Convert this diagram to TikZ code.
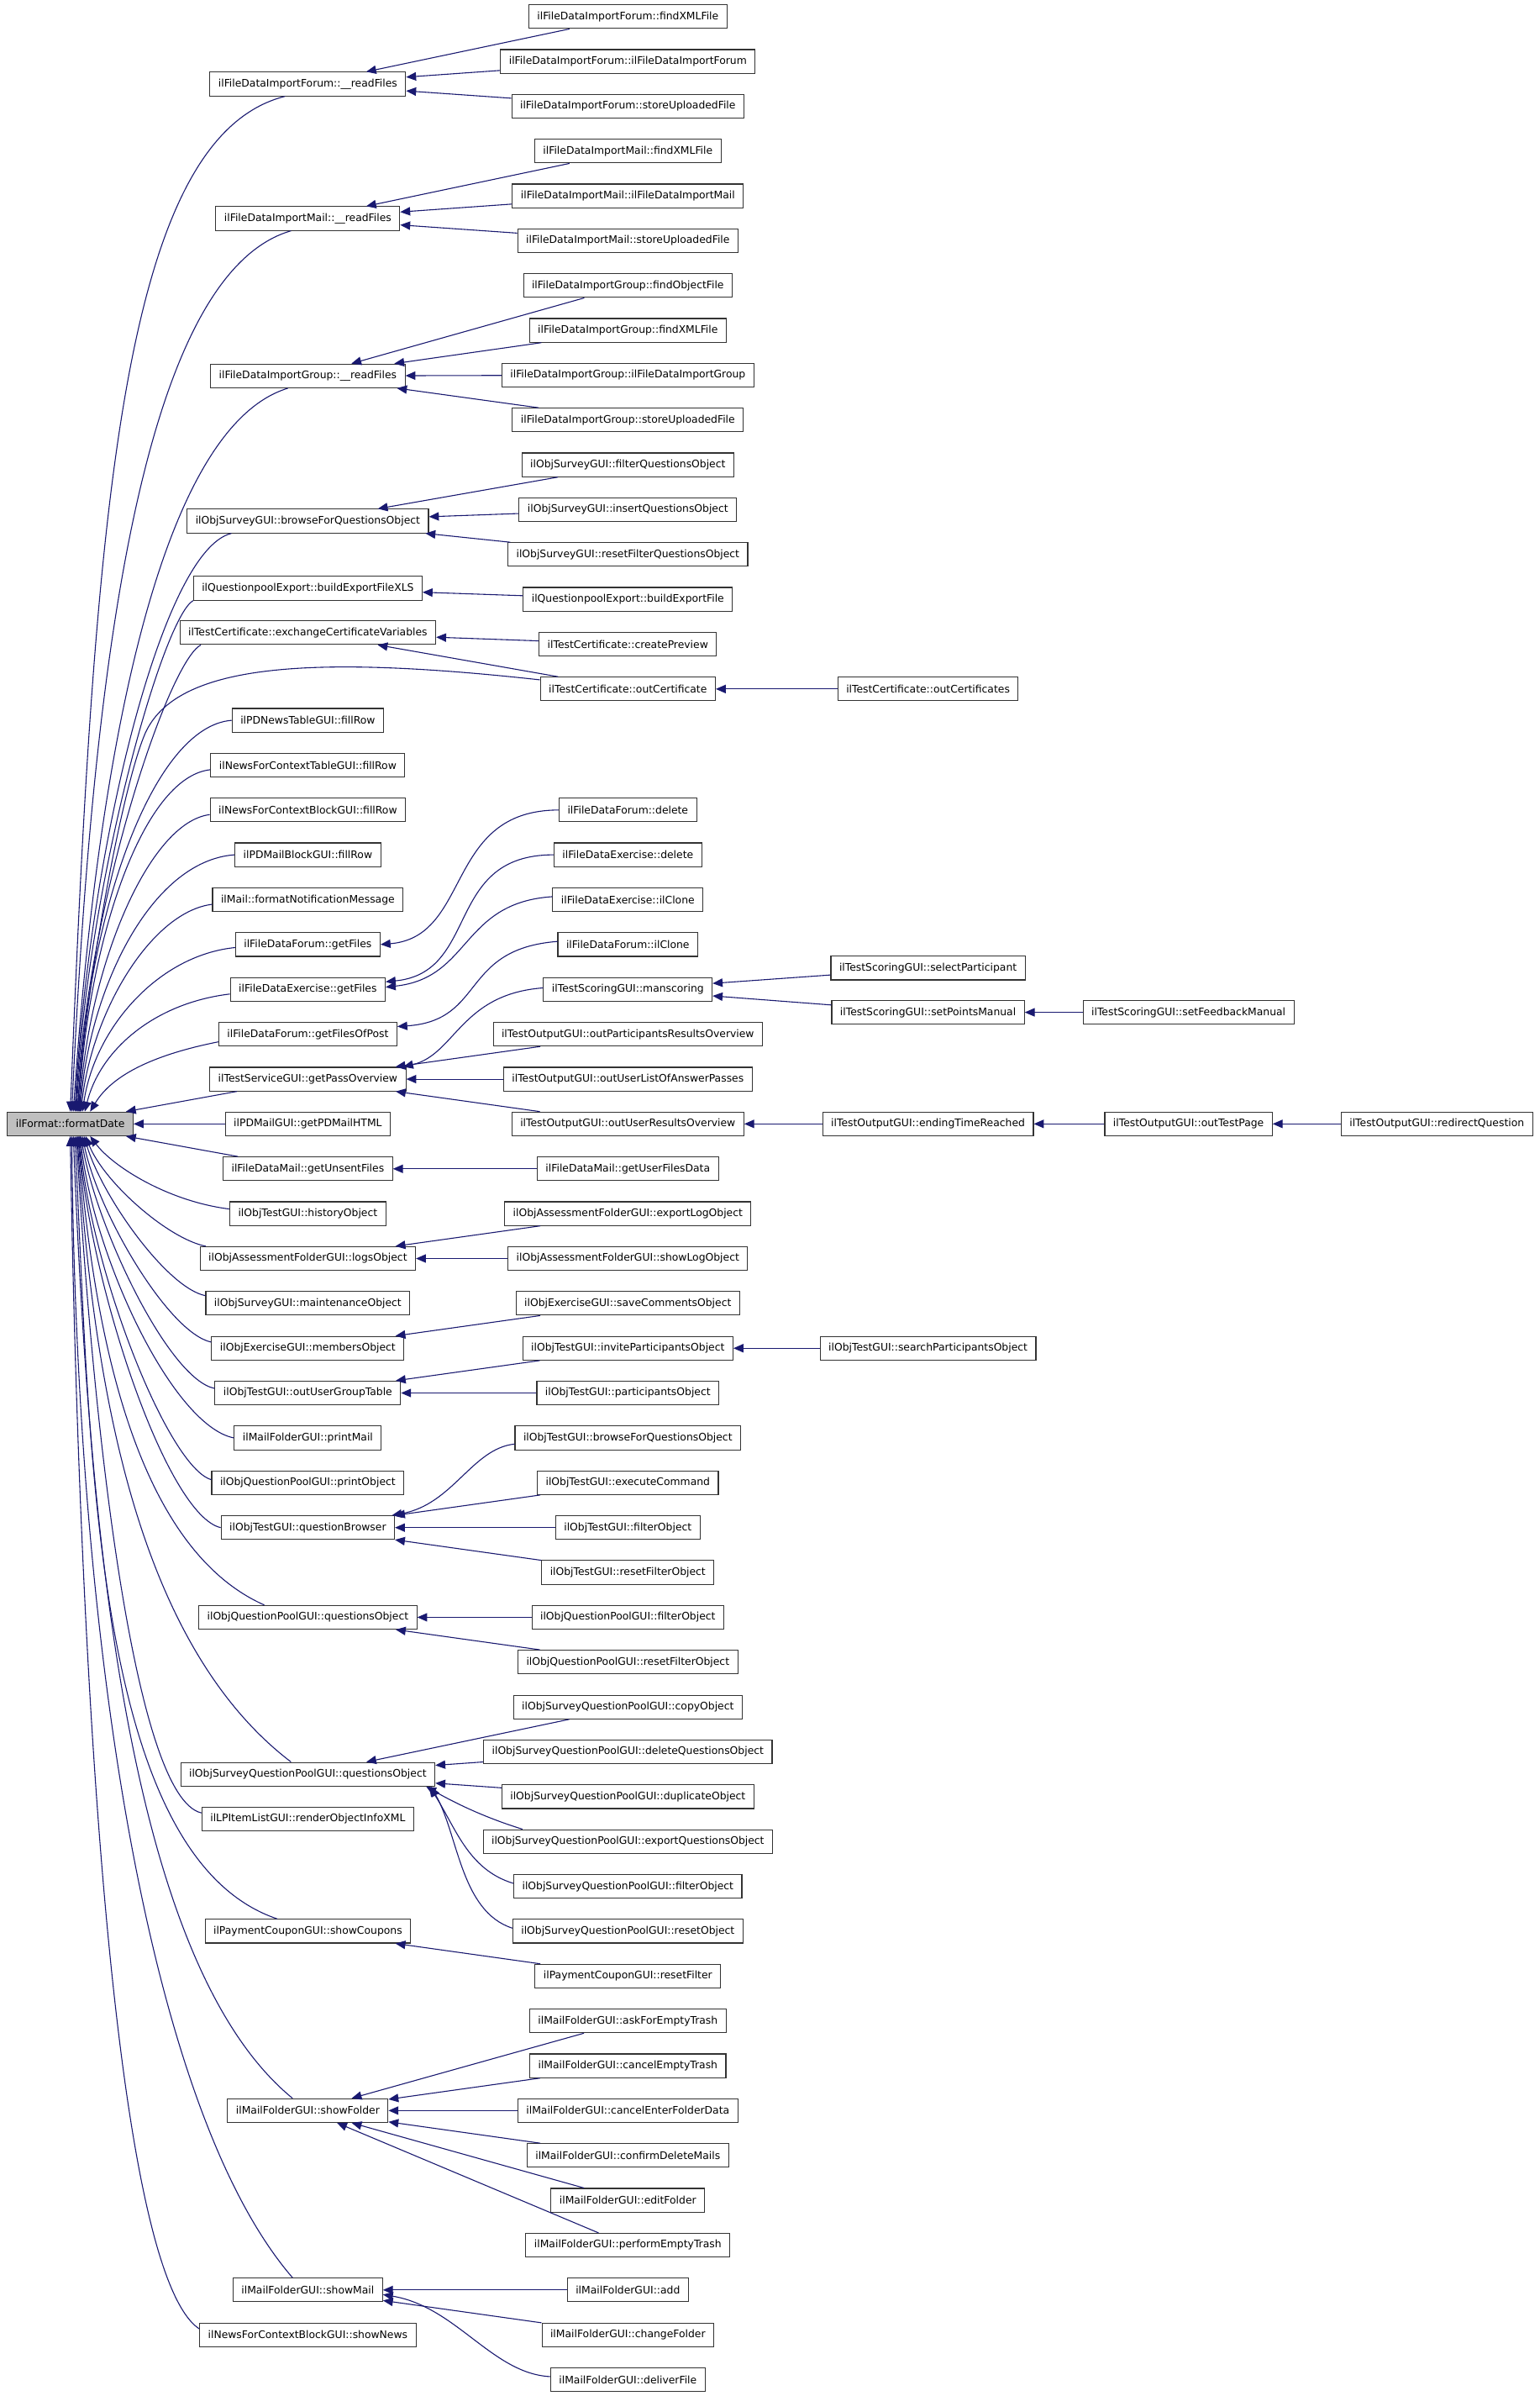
\documentclass[tikz,border=0pt]{standalone}
\usepackage{fontspec}
\setmainfont{DejaVu Sans}
\usetikzlibrary{arrows.meta}
\definecolor{edgeblue}{HTML}{191970}
\definecolor{rootgray}{HTML}{BFBFBF}

\begin{document}
\begin{tikzpicture}[x=1pt,y=-1pt,
  fn/.style={draw=black!80,line width=0.6pt,fill=white,minimum height=15.5pt,
    inner xsep=5.5pt,inner ysep=0pt,font=\fontsize{6.8}{8}\selectfont},
  root/.style={fn,fill=rootgray},
  call/.style={draw=edgeblue,line width=0.6pt,-{Triangle[length=6.5pt,width=5.5pt]}}]
  \useasboundingbox[fill=white] (0,0) rectangle (1007.6,1568);

  % called function
  \node[root] (fd) at (46,735.5) {ilFormat::formatDate};

  % direct callers
  \node[fn] (rfForum) at (201.5,55) {ilFileDataImportForum::\_\_readFiles};
  \node[fn] (rfMail) at (201.5,143) {ilFileDataImportMail::\_\_readFiles};
  \node[fn] (rfGroup) at (201.5,246) {ilFileDataImportGroup::\_\_readFiles};
  \node[fn] (svBrowse) at (201.5,341) {ilObjSurveyGUI::browseForQuestionsObject};
  \node[fn] (qpXLS) at (201.5,385) {ilQuestionpoolExport::buildExportFileXLS};
  \node[fn] (tcExchange) at (201.5,414) {ilTestCertificate::exchangeCertificateVariables};
  \node[fn] (pdNews) at (201.5,471.4) {ilPDNewsTableGUI::fillRow};
  \node[fn] (ncTable) at (201.5,500.7) {ilNewsForContextTableGUI::fillRow};
  \node[fn] (ncBlock) at (201.5,530.1) {ilNewsForContextBlockGUI::fillRow};
  \node[fn] (pdMailBlock) at (201.5,559.4) {ilPDMailBlockGUI::fillRow};
  \node[fn] (mailNotify) at (201.5,588.8) {ilMail::formatNotificationMessage};
  \node[fn] (dfGetFiles) at (201.5,618.1) {ilFileDataForum::getFiles};
  \node[fn] (deGetFiles) at (201.5,647.5) {ilFileDataExercise::getFiles};
  \node[fn] (dfOfPost) at (201.5,676.8) {ilFileDataForum::getFilesOfPost};
  \node[fn] (tsPass) at (201.5,706.2) {ilTestServiceGUI::getPassOverview};
  \node[fn] (pdMailHtml) at (201.5,735.5) {ilPDMailGUI::getPDMailHTML};
  \node[fn] (dmUnsent) at (201.5,764.9) {ilFileDataMail::getUnsentFiles};
  \node[fn] (otHistory) at (201.5,794.2) {ilObjTestGUI::historyObject};
  \node[fn] (afLogs) at (201.5,823.6) {ilObjAssessmentFolderGUI::logsObject};
  \node[fn] (svMaint) at (201.5,852.9) {ilObjSurveyGUI::maintenanceObject};
  \node[fn] (exMembers) at (201.5,882.3) {ilObjExerciseGUI::membersObject};
  \node[fn] (otGroup) at (201.5,911.6) {ilObjTestGUI::outUserGroupTable};
  \node[fn] (mfPrint) at (201.5,941) {ilMailFolderGUI::printMail};
  \node[fn] (qpPrint) at (201.5,970.3) {ilObjQuestionPoolGUI::printObject};
  \node[fn] (otBrowser) at (201.5,999.7) {ilObjTestGUI::questionBrowser};
  \node[fn] (qpQuestions) at (201.5,1058.4) {ilObjQuestionPoolGUI::questionsObject};
  \node[fn] (sqQuestions) at (201.5,1161.1) {ilObjSurveyQuestionPoolGUI::questionsObject};
  \node[fn] (lpRender) at (201.5,1190.4) {ilLPItemListGUI::renderObjectInfoXML};
  \node[fn] (pcShow) at (201.5,1263.8) {ilPaymentCouponGUI::showCoupons};
  \node[fn] (mfShowFolder) at (201.5,1381.2) {ilMailFolderGUI::showFolder};
  \node[fn] (mfShowMail) at (201.5,1498.6) {ilMailFolderGUI::showMail};
  \node[fn] (ncShowNews) at (201.5,1528) {ilNewsForContextBlockGUI::showNews};

  % second level
  \node[fn] (ifFindXML) at (411,10.9) {ilFileDataImportForum::findXMLFile};
  \node[fn] (ifCtor) at (411,40.2) {ilFileDataImportForum::ilFileDataImportForum};
  \node[fn] (ifStore) at (411,69.6) {ilFileDataImportForum::storeUploadedFile};
  \node[fn] (imFindXML) at (411,98.9) {ilFileDataImportMail::findXMLFile};
  \node[fn] (imCtor) at (411,128.2) {ilFileDataImportMail::ilFileDataImportMail};
  \node[fn] (imStore) at (411,157.6) {ilFileDataImportMail::storeUploadedFile};
  \node[fn] (igFindObj) at (411,186.9) {ilFileDataImportGroup::findObjectFile};
  \node[fn] (igFindXML) at (411,216.2) {ilFileDataImportGroup::findXMLFile};
  \node[fn] (igCtor) at (411,245.5) {ilFileDataImportGroup::ilFileDataImportGroup};
  \node[fn] (igStore) at (411,274.9) {ilFileDataImportGroup::storeUploadedFile};
  \node[fn] (svFilter) at (411,304.2) {ilObjSurveyGUI::filterQuestionsObject};
  \node[fn] (svInsert) at (411,333.5) {ilObjSurveyGUI::insertQuestionsObject};
  \node[fn] (svReset) at (411,362.9) {ilObjSurveyGUI::resetFilterQuestionsObject};
  \node[fn] (qpExport) at (411,392.2) {ilQuestionpoolExport::buildExportFile};
  \node[fn] (tcPreview) at (411,421.5) {ilTestCertificate::createPreview};
  \node[fn] (tcOut) at (411,450.9) {ilTestCertificate::outCertificate};
  \node[fn] (dfDelete) at (411,530.1) {ilFileDataForum::delete};
  \node[fn] (deDelete) at (411,559.4) {ilFileDataExercise::delete};
  \node[fn] (deClone) at (411,588.8) {ilFileDataExercise::ilClone};
  \node[fn] (dfClone) at (411,618.1) {ilFileDataForum::ilClone};
  \node[fn] (tsManscoring) at (411,647.5) {ilTestScoringGUI::manscoring};
  \node[fn] (toParticipants) at (411,676.8) {ilTestOutputGUI::outParticipantsResultsOverview};
  \node[fn] (toAnswerPasses) at (411,706.2) {ilTestOutputGUI::outUserListOfAnswerPasses};
  \node[fn] (toResults) at (411,735.5) {ilTestOutputGUI::outUserResultsOverview};
  \node[fn] (dmUserFiles) at (411,764.9) {ilFileDataMail::getUserFilesData};
  \node[fn] (afExport) at (411,794.2) {ilObjAssessmentFolderGUI::exportLogObject};
  \node[fn] (afShow) at (411,823.6) {ilObjAssessmentFolderGUI::showLogObject};
  \node[fn] (exSave) at (411,852.9) {ilObjExerciseGUI::saveCommentsObject};
  \node[fn] (otInvite) at (411,882.3) {ilObjTestGUI::inviteParticipantsObject};
  \node[fn] (otParticipants) at (411,911.6) {ilObjTestGUI::participantsObject};
  \node[fn] (otBrowseQ) at (411,941) {ilObjTestGUI::browseForQuestionsObject};
  \node[fn] (otExecute) at (411,970.3) {ilObjTestGUI::executeCommand};
  \node[fn] (otFilter) at (411,999.7) {ilObjTestGUI::filterObject};
  \node[fn] (otReset) at (411,1029) {ilObjTestGUI::resetFilterObject};
  \node[fn] (qpFilter) at (411,1058.4) {ilObjQuestionPoolGUI::filterObject};
  \node[fn] (qpReset) at (411,1087.7) {ilObjQuestionPoolGUI::resetFilterObject};
  \node[fn] (sqCopy) at (411,1117.1) {ilObjSurveyQuestionPoolGUI::copyObject};
  \node[fn] (sqDelete) at (411,1146.4) {ilObjSurveyQuestionPoolGUI::deleteQuestionsObject};
  \node[fn] (sqDuplicate) at (411,1175.8) {ilObjSurveyQuestionPoolGUI::duplicateObject};
  \node[fn] (sqExport) at (411,1205.1) {ilObjSurveyQuestionPoolGUI::exportQuestionsObject};
  \node[fn] (sqFilter) at (411,1234.5) {ilObjSurveyQuestionPoolGUI::filterObject};
  \node[fn] (sqReset) at (411,1263.8) {ilObjSurveyQuestionPoolGUI::resetObject};
  \node[fn] (pcReset) at (411,1293.2) {ilPaymentCouponGUI::resetFilter};
  \node[fn] (mfAskEmpty) at (411,1322.5) {ilMailFolderGUI::askForEmptyTrash};
  \node[fn] (mfCancelEmpty) at (411,1351.9) {ilMailFolderGUI::cancelEmptyTrash};
  \node[fn] (mfCancelEnter) at (411,1381.2) {ilMailFolderGUI::cancelEnterFolderData};
  \node[fn] (mfConfirm) at (411,1410.6) {ilMailFolderGUI::confirmDeleteMails};
  \node[fn] (mfEdit) at (411,1439.9) {ilMailFolderGUI::editFolder};
  \node[fn] (mfPerform) at (411,1469.3) {ilMailFolderGUI::performEmptyTrash};
  \node[fn] (mfAdd) at (411,1498.6) {ilMailFolderGUI::add};
  \node[fn] (mfChange) at (411,1528) {ilMailFolderGUI::changeFolder};
  \node[fn] (mfDeliver) at (411,1557.3) {ilMailFolderGUI::deliverFile};

  % third level and beyond
  \node[fn] (tcOuts) at (607.5,450.9) {ilTestCertificate::outCertificates};
  \node[fn] (tsSelect) at (607.5,633.5) {ilTestScoringGUI::selectParticipant};
  \node[fn] (tsSetPoints) at (607.5,662.5) {ilTestScoringGUI::setPointsManual};
  \node[fn] (toEnding) at (607.5,735.5) {ilTestOutputGUI::endingTimeReached};
  \node[fn] (otSearch) at (607.5,882.3) {ilObjTestGUI::searchParticipantsObject};
  \node[fn] (tsFeedback) at (778,662.5) {ilTestScoringGUI::setFeedbackManual};
  \node[fn] (toTestPage) at (778,735.5) {ilTestOutputGUI::outTestPage};
  \node[fn] (toRedirect) at (940.6,735.5) {ilTestOutputGUI::redirectQuestion};

  % fan into formatDate, upper half
  \draw[call] ([xshift=-15pt]rfForum.south) .. controls +(-106,27) and +(16,-398) .. (fd.north);
  \draw[call] ([xshift=-11pt]rfMail.south) .. controls +(-100,29) and +(13,-278) .. ([xshift=1pt]fd.north);
  \draw[call] ([xshift=-13pt]rfGroup.south) .. controls +(-89,27) and +(14,-208) .. ([xshift=2pt]fd.north);
  \draw[call] ([xshift=-50pt]svBrowse.south) .. controls +(-46,11) and +(9,-168) .. ([xshift=3pt]fd.north);
  \draw[call] (qpXLS.south west) .. controls +(-20,12) and +(8,-150) .. ([xshift=3.5pt]fd.north);
  \draw[call] ([xshift=14pt]tcExchange.south west) .. controls +(-21,11) and +(8,-140) .. ([xshift=4pt]fd.north);
  \draw[call] ([yshift=6pt]tcOut.west) .. controls (200,428) and (115,435) .. (95,480)
    .. controls (80,515) and (57,640) .. ([xshift=4.5pt]fd.north);
  \draw[call] (pdNews.west) .. controls +(-52,4) and +(6,-128) .. ([xshift=5pt]fd.north);
  \draw[call] ([yshift=-3pt]ncTable.west) .. controls +(-45,5) and +(6,-110) .. ([xshift=5.5pt]fd.north);
  \draw[call] ([yshift=-3pt]ncBlock.west) .. controls +(-40,5) and +(6,-95) .. ([xshift=6pt]fd.north);
  \draw[call] (pdMailBlock.west) .. controls +(-55,4) and +(6,-80) .. ([xshift=6.5pt]fd.north);
  \draw[call] ([yshift=-3pt]mailNotify.west) .. controls +(-40,5) and +(7,-65) .. ([xshift=7pt]fd.north);
  \draw[call] ([yshift=-2pt]dfGetFiles.west) .. controls +(-50,5) and +(8,-55) .. ([xshift=8pt]fd.north);
  \draw[call] ([yshift=-3pt]deGetFiles.west) .. controls +(-50,6) and +(10,-40) .. ([xshift=9.5pt]fd.north);
  \draw[call] ([yshift=-5pt]dfOfPost.west) .. controls +(-40,8) and +(15,-25) .. ([xshift=13pt]fd.north);
  \draw[call] ([xshift=18pt]tsPass.south west) -- ([xshift=-5pt]fd.north east);
  \draw[call] (pdMailHtml) -- (fd);

  % fan into formatDate, lower half
  \draw[call] ([xshift=10pt]dmUnsent.north west) -- ([xshift=-5pt]fd.south east);
  \draw[call] ([yshift=3pt]otHistory.west) .. controls +(-40,-5) and +(15,20) .. ([xshift=13pt]fd.south);
  \draw[call] ([xshift=4pt]afLogs.north west) .. controls +(-25,-5) and +(12,30) .. ([xshift=10pt]fd.south);
  \draw[call] ([yshift=5pt]svMaint.west) .. controls +(-25,-5) and +(12,40) .. ([xshift=9pt]fd.south);
  \draw[call] ([yshift=4pt]exMembers.west) .. controls +(-28,-6) and +(10,50) .. ([xshift=8pt]fd.south);
  \draw[call] ([yshift=3pt]otGroup.west) .. controls +(-30,-6) and +(10,60) .. ([xshift=7pt]fd.south);
  \draw[call] (mfPrint.west) .. controls +(-40,-8) and +(9,80) .. ([xshift=6.5pt]fd.south);
  \draw[call] ([yshift=2pt]qpPrint.west) .. controls +(-28,-8) and +(8,90) .. ([xshift=6pt]fd.south);
  \draw[call] (otBrowser.west) .. controls +(-35,-8) and +(8,100) .. ([xshift=5.5pt]fd.south);
  \draw[call] ([xshift=-28.5pt]qpQuestions.north) .. controls +(-90,-40) and +(9,110) .. ([xshift=5pt]fd.south);
  \draw[call] ([xshift=-11pt]sqQuestions.north) .. controls +(-105,-80) and +(10,150) .. ([xshift=4.5pt]fd.south);
  \draw[call] ([yshift=4pt]lpRender.west) .. controls +(-45,-10) and +(10,180) .. ([xshift=4pt]fd.south);
  \draw[call] ([xshift=-20pt]pcShow.north) .. controls +(-121.5,-41) and +(10,200) .. ([xshift=3pt]fd.south);
  \draw[call] ([xshift=-10pt]mfShowFolder.north) .. controls +(-110,-90) and +(10,250) .. ([xshift=2pt]fd.south);
  \draw[call] ([xshift=-10pt]mfShowMail.north) .. controls +(-95,-110) and +(3,330) .. ([xshift=1pt]fd.south);
  \draw[call] ([yshift=4pt]ncShowNews.west) .. controls +(-60,-40) and +(5,300) .. (fd.south);

  % second level into first
  \draw[call] (ifFindXML) -- (rfForum);
  \draw[call] (ifCtor) -- (rfForum);
  \draw[call] (ifStore) -- (rfForum);
  \draw[call] (imFindXML) -- (rfMail);
  \draw[call] (imCtor) -- (rfMail);
  \draw[call] (imStore) -- (rfMail);
  \draw[call] (igFindObj) -- (rfGroup);
  \draw[call] (igFindXML) -- (rfGroup);
  \draw[call] (igCtor) -- (rfGroup);
  \draw[call] (igStore) -- (rfGroup);
  \draw[call] (svFilter) -- (svBrowse);
  \draw[call] (svInsert) -- (svBrowse);
  \draw[call] (svReset) -- (svBrowse);
  \draw[call] (qpExport) -- (qpXLS);
  \draw[call] (tcPreview) -- (tcExchange);
  \draw[call] (tcOut) -- (tcExchange);
  \draw[call] (dfDelete.west) .. controls +(-75,0) and +(60,-5) .. (dfGetFiles.east);
  \draw[call] (deDelete.west) .. controls +(-72,0) and +(62,-6) .. ([yshift=5pt]deGetFiles.east);
  \draw[call] ([yshift=2pt]deClone.west) .. controls +(-60,4) and +(56,-6) .. ([yshift=1.5pt]deGetFiles.east);
  \draw[call] ([yshift=2pt]dfClone.west) .. controls +(-64,5) and +(58,-4) .. ([yshift=5pt]dfOfPost.east);
  \draw[call] ([yshift=1pt]tsManscoring.west) .. controls +(-54,4) and +(34,-8) .. ([xshift=-2pt]tsPass.north east);
  \draw[call] (toParticipants) -- (tsPass);
  \draw[call] (toAnswerPasses) -- (tsPass);
  \draw[call] (toResults) -- (tsPass);
  \draw[call] (dmUserFiles) -- (dmUnsent);
  \draw[call] (afExport) -- (afLogs);
  \draw[call] (afShow) -- (afLogs);
  \draw[call] (exSave) -- (exMembers);
  \draw[call] (otInvite) -- (otGroup);
  \draw[call] (otParticipants) -- (otGroup);
  \draw[call] ([yshift=-4pt]otBrowseQ.west) .. controls +(-28,3) and +(40,-7) .. ([xshift=-2pt]otBrowser.north east);
  \draw[call] (otExecute) -- (otBrowser);
  \draw[call] (otFilter) -- (otBrowser);
  \draw[call] (otReset) -- (otBrowser);
  \draw[call] (qpFilter) -- (qpQuestions);
  \draw[call] (qpReset) -- (qpQuestions);
  \draw[call] (sqCopy) -- (sqQuestions);
  \draw[call] (sqDelete) -- (sqQuestions);
  \draw[call] (sqDuplicate) -- (sqQuestions);
  \draw[call] ([xshift=26pt]sqExport.north west) .. controls +(-29,-9) and +(14,8) .. ([xshift=-6pt]sqQuestions.south east);
  \draw[call] ([yshift=2pt]sqFilter.west) .. controls +(-30,-9) and +(17,26) .. ([xshift=-4pt]sqQuestions.south east);
  \draw[call] ([yshift=2pt]sqReset.west) .. controls +(-34,-11) and +(18,31) .. ([xshift=-3pt]sqQuestions.south east);
  \draw[call] (pcReset) -- (pcShow);
  \draw[call] (mfAskEmpty) -- (mfShowFolder);
  \draw[call] (mfCancelEmpty) -- (mfShowFolder);
  \draw[call] (mfCancelEnter) -- (mfShowFolder);
  \draw[call] (mfConfirm) -- (mfShowFolder);
  \draw[call] (mfEdit) -- (mfShowFolder);
  \draw[call] (mfPerform) -- (mfShowFolder);
  \draw[call] (mfAdd) -- (mfShowMail);
  \draw[call] (mfChange) -- (mfShowMail);
  \draw[call] ([yshift=2pt]mfDeliver.west) .. controls +(-38,-2) and +(48,8) .. ([yshift=-3pt]mfShowMail.east);

  % deeper levels
  \draw[call] (tcOuts) -- (tcOut);
  \draw[call] (tsSelect) -- (tsManscoring);
  \draw[call] (tsSetPoints) -- (tsManscoring);
  \draw[call] (tsFeedback) -- (tsSetPoints);
  \draw[call] (toEnding) -- (toResults);
  \draw[call] (toTestPage) -- (toEnding);
  \draw[call] (toRedirect) -- (toTestPage);
  \draw[call] (otSearch) -- (otInvite);
\end{tikzpicture}
\end{document}
